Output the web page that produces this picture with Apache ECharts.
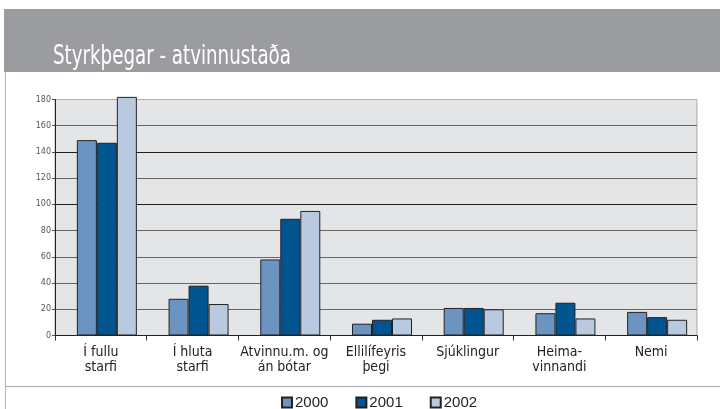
<!DOCTYPE html>
<html>
<head>
<meta charset="utf-8">
<script src="https://cdn.jsdelivr.net/npm/echarts@6/dist/echarts.min.js"></script>
<style>html,body{margin:0;padding:0;background:#fff;}#c{width:720px;height:409px;}</style>
</head>
<body>
<div id="c"></div>
<script>
const categories = ['Í fullu\nstarfi', 'Í hluta\nstarfi', 'Atvinnu.m. og\nán bótar', 'Ellilífeyris\nþegi', 'Sjúklingur', 'Heima-\nvinnandi', 'Nemi'];
const years = ['2000', '2001', '2002'];
const values2000 = [149, 28, 58, 9, 21, 17, 18];
const values2001 = [147, 38, 89, 12, 21, 25, 14];
const values2002 = [182, 24, 95, 13, 20, 13, 12];
const yTicks = { min: 0, max: 180, interval: 20 };
const colors = ['#6b95c0', '#005590', '#b8c9e0'];

const narrow = "'Liberation Sans Narrow','DejaVu Sans Condensed',sans-serif";
const chart = echarts.init(document.getElementById('c'), null, { renderer: 'canvas' });

const dataSets = [values2000, values2001, values2002];
const barSeries = years.map((y, i) => ({
  name: y,
  type: 'bar',
  data: dataSets[i],
  barWidth: 20,
  barGap: '0%',
  clip: false,
  itemStyle: { color: colors[i], borderColor: '#222', borderWidth: 1 }
}));

chart.setOption({
  animation: false,
  backgroundColor: '#fff',
  graphic: [
    { type: 'rect', shape: { x: 4, y: 9, width: 716, height: 63 }, style: { fill: '#9b9c9f' }, z: -10 },
    { type: 'line', shape: { x1: 5.5, y1: 72, x2: 5.5, y2: 409 }, style: { stroke: '#b5b5b5', lineWidth: 1 } },
    { type: 'line', shape: { x1: 5, y1: 386.5, x2: 720, y2: 386.5 }, style: { stroke: '#a8a8a8', lineWidth: 1 } },
    { type: 'text', x: 53, y: 44, scaleX: 0.78, z: 10,
      style: { text: 'Styrkþegar - atvinnustaða', fill: '#fff', font: "normal 26px 'DejaVu Sans Condensed','DejaVu Sans',sans-serif" } }
  ],
  legend: {
    data: years,
    left: 276,
    top: 390,
    icon: 'rect',
    itemWidth: 10,
    itemHeight: 10,
    itemGap: 27,
    textStyle: { color: '#222', fontSize: 15, fontFamily: "'Liberation Sans',Arial,sans-serif", padding: [0, 0, 0, -2] }
  },
  grid: {
    left: 55, right: 23, top: 99.5, bottom: 73.5,
    show: true, backgroundColor: '#e4e5e7', borderColor: '#a9a9a9', borderWidth: 1
  },
  xAxis: {
    type: 'category',
    data: categories,
    axisLine: { lineStyle: { color: '#222', width: 1 } },
    axisTick: { show: true, length: 5, lineStyle: { color: '#333' } },
    axisLabel: { interval: 0, color: '#222', fontFamily: narrow, fontSize: 14, lineHeight: 15, margin: 9 }
  },
  yAxis: {
    type: 'value',
    min: yTicks.min, max: yTicks.max, interval: yTicks.interval,
    axisLine: { show: true, lineStyle: { color: '#222' } },
    axisTick: { show: true, length: 3, lineStyle: { color: '#555' } },
    axisLabel: { color: '#555', fontSize: 8, margin: 4, fontFamily: "'DejaVu Sans',sans-serif" },
    splitLine: { show: true, lineStyle: { color: ['#666', '#666', '#666', '#666', '#666', '#1e1e1e', '#666', '#1e1e1e', '#666', '#b0b0b0'], width: 1 } }
  },
  series: [
    { name: 'pad', type: 'bar', data: [], barWidth: 12, barGap: '0%', silent: true }
  ].concat(barSeries)
});
</script>
</body>
</html>
